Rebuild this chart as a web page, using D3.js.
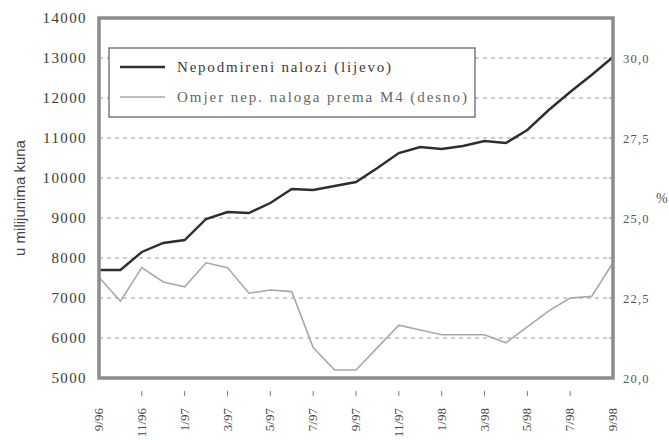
<!DOCTYPE html>
<html>
<head>
<meta charset="utf-8">
<script src="https://cdn.jsdelivr.net/npm/d3@7"></script>
<style>
  body { margin: 0; background: #fff; }
  svg { display: block; }
  .serif { font-family: "Liberation Serif", "DejaVu Serif", serif; }
</style>
</head>
<body>
<div id="chart"></div>
<script>
// months, 9/96 .. 9/98
var months = ["9/96","10/96","11/96","12/96","1/97","2/97","3/97","4/97","5/97","6/97","7/97","8/97",
              "9/97","10/97","11/97","12/97","1/98","2/98","3/98","4/98","5/98","6/98","7/98","8/98","9/98"];

// Nepodmireni nalozi (lijevo), mil. kn
var nalozi = [7700, 7700, 8150, 8375, 8450, 8975, 9150, 9125, 9375, 9725, 9700, 9800,
              9900, 10250, 10625, 10775, 10725, 10800, 10925, 10875, 11200, 11700, 12150, 12575, 13025];

// Omjer nep. naloga prema M4 (desno), %
var omjer = [23.15, 22.4, 23.45, 23.0, 22.85, 23.6, 23.45, 22.65, 22.75, 22.7, 20.95, 20.25,
             20.25, 20.95, 21.65, 21.5, 21.35, 21.35, 21.35, 21.1, 21.6, 22.1, 22.5, 22.55, 23.6];

var xTickLabels = ["9/96","11/96","1/97","3/97","5/97","7/97","9/97","11/97","1/98","3/98","5/98","7/98","9/98"];
var leftTicks = [5000, 6000, 7000, 8000, 9000, 10000, 11000, 12000, 13000, 14000];
var rightTicks = [20, 22.5, 25, 27.5, 30];
var seriesNames = ["Nepodmireni nalozi (lijevo)", "Omjer nep. naloga prema M4 (desno)"];

var margin = {top: 18, right: 56, bottom: 62, left: 99},
    width = 669 - margin.left - margin.right,
    height = 440 - margin.top - margin.bottom;

var xScale = d3.scaleLinear().domain([0, months.length - 1]).range([0, width]);
var yLeft = d3.scaleLinear().domain([5000, 14000]).range([height, 0]);
var yRight = d3.scaleLinear().domain([20, 31.25]).range([height, 0]);

var svg = d3.select("#chart").append("svg")
    .attr("width", 669)
    .attr("height", 440);

var g = svg.append("g")
    .attr("transform", "translate(" + margin.left + "," + margin.top + ")");

// dashed gridlines
g.selectAll(".grid")
    .data(leftTicks.filter(function(d) { return d > 5000 && d < 14000; }))
  .enter().append("line")
    .attr("x1", 0).attr("x2", width)
    .attr("y1", function(d) { return yLeft(d); })
    .attr("y2", function(d) { return yLeft(d); })
    .attr("stroke", "#9a9a9a")
    .attr("stroke-width", 1)
    .attr("stroke-dasharray", "4,4");

// left axis labels
var axL = g.append("g")
    .call(d3.axisLeft(yLeft).tickValues(leftTicks).tickSize(0).tickPadding(12).tickFormat(d3.format("d")));
axL.select(".domain").remove();
axL.selectAll("text")
    .attr("class", "serif")
    .style("font-size", "15px")
    .style("letter-spacing", "1.4px")
    .attr("fill", "#3a3a3a");

// right axis labels
var axR = g.append("g")
    .attr("transform", "translate(" + width + ",0)")
    .call(d3.axisRight(yRight).tickValues(rightTicks).tickSize(0).tickPadding(10)
      .tickFormat(function(d) { return d3.format(".1f")(d).replace(".", ","); }));
axR.select(".domain").remove();
axR.selectAll("text")
    .attr("class", "serif")
    .style("font-size", "12.5px")
    .style("letter-spacing", "1.2px")
    .attr("fill", "#555");

// small inner ticks on right side
g.selectAll(".rtick")
    .data(leftTicks.filter(function(d) { return d > 5000 && d < 14000; }))
  .enter().append("line")
    .attr("x1", width - 4).attr("x2", width)
    .attr("y1", function(d) { return yLeft(d); })
    .attr("y2", function(d) { return yLeft(d); })
    .attr("stroke", "#888");

// x labels, rotated
var xIdx = xTickLabels.map(function(l) { return months.indexOf(l); });
g.selectAll(".xlab")
    .data(xTickLabels)
  .enter().append("text")
    .attr("class", "serif")
    .attr("transform", function(d, i) {
      return "translate(" + (xScale(xIdx[i]) + 4) + "," + (height + 30) + ") rotate(-90)";
    })
    .attr("text-anchor", "end")
    .style("font-size", "13px")
    .attr("fill", "#484848")
    .text(function(d) { return d; });

// little marks above x labels
g.selectAll(".xtick")
    .data(xIdx.slice(1, -1))
  .enter().append("line")
    .attr("x1", function(d) { return xScale(d); })
    .attr("x2", function(d) { return xScale(d); })
    .attr("y1", height + 13).attr("y2", height + 18)
    .attr("stroke", "#777");

// lines
var lineL = d3.line()
    .x(function(d, i) { return xScale(i); })
    .y(function(d) { return yLeft(d); });
var lineR = d3.line()
    .x(function(d, i) { return xScale(i); })
    .y(function(d) { return yRight(d); });

g.append("path")
    .datum(omjer)
    .attr("fill", "none")
    .attr("stroke", "#a8a8a8")
    .attr("stroke-width", 1.6)
    .attr("d", lineR);

g.append("path")
    .datum(nalozi)
    .attr("fill", "none")
    .attr("stroke", "#2e2e2e")
    .attr("stroke-width", 2.4)
    .attr("d", lineL);

// frame
g.append("rect")
    .attr("x", 0).attr("y", 0)
    .attr("width", width).attr("height", height)
    .attr("fill", "none")
    .attr("stroke", "#8c8c8c")
    .attr("stroke-width", 3.5);

// legend
var leg = g.append("g").attr("transform", "translate(10,30)");
leg.append("rect")
    .attr("width", 366).attr("height", 69)
    .attr("fill", "#fff")
    .attr("stroke", "#666")
    .attr("stroke-width", 1.3);
var legColors = ["#2e2e2e", "#a8a8a8"];
var legWidths = [2.4, 1.6];
var legTextLen = [214, 290];
seriesNames.forEach(function(name, i) {
  var yy = 19 + i * 30;
  leg.append("line")
    .attr("x1", 11).attr("x2", 56)
    .attr("y1", yy).attr("y2", yy)
    .attr("stroke", legColors[i])
    .attr("stroke-width", legWidths[i]);
  leg.append("text")
    .attr("class", "serif")
    .attr("x", 68).attr("y", yy + 5)
    .attr("textLength", legTextLen[i])
    .attr("lengthAdjust", "spacing")
    .style("font-size", "15px")
    .attr("fill", i === 0 ? "#3a3a3a" : "#666")
    .text(name);
});

// axis titles
svg.append("text")
    .attr("transform", "translate(25,198) rotate(-90)")
    .attr("text-anchor", "middle")
    .style("font-family", "'Liberation Sans Narrow', 'Liberation Sans', sans-serif")
    .style("font-size", "15px")
    .attr("fill", "#444")
    .text("u milijunima kuna");

svg.append("text")
    .attr("x", 656).attr("y", 203)
    .attr("class", "serif")
    .style("font-size", "14px")
    .attr("fill", "#555")
    .text("%");
</script>
</body>
</html>
